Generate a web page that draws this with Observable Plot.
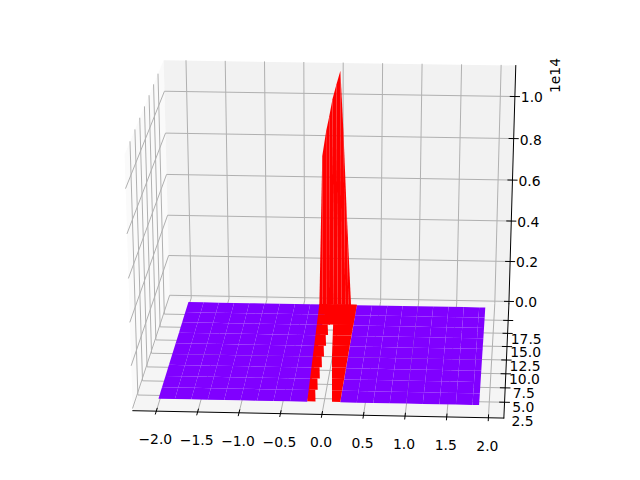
<!DOCTYPE html>
<html><head><meta charset="utf-8">
<script src="https://cdn.jsdelivr.net/npm/d3@7"></script>
<script src="https://cdn.jsdelivr.net/npm/@observablehq/plot@0.6"></script>
<style>html,body{margin:0;padding:0;background:#fff}svg{display:block}</style>
</head><body><div id="chart"></div>
<script>
// axis ticks and labels
const xTicks=[-2,-1.5,-1,-0.5,0,0.5,1,1.5,2];
const yTicks=[2.5,5,7.5,10,12.5,15,17.5];
const zTicks=[0,0.2,0.4,0.6,0.8,1.0];
const xLabels=["−2.0","−1.5","−1.0","−0.5","0.0","0.5","1.0","1.5","2.0"];
const yLabels=["2.5","5.0","7.5","10.0","12.5","15.0","17.5"];
const zLabels=["0.0","0.2","0.4","0.6","0.8","1.0"];
const offsetLabel="1e14";
// axis box limits (z in units of 1e14)
const xLim=[-2.285,2.185], yLim=[-0.19,20.8], zLim=[-0.012,1.146];
// surface grid
const xGrid=[-2.01,-1.81,-1.61,-1.41,-1.21,-1.01,-0.81,-0.61,-0.41,-0.2,0.2,0.4,0.6,0.8,1,1.2,1.4,1.6,1.8,1.88];
const yGrid=[1.5,3.5,5.5,7.5,9.5,11.5,13.5,15.5,17.5,19.5];
// left red stripe: outer edge x per row
const stripeLeftX=[-0.2,-0.21,-0.22,-0.23,-0.24,-0.25,-0.26,-0.27,-0.28,-0.29];
// fin at the far row: upper outline [x, z]
const finTopX=[-0.29,-0.25,-0.2,-0.16,-0.12,-0.07,-0.02,0.02,0.06,0.125];
const finTopZ=[0,0.73,0.85,0.92,1.0,1.07,1.135,0.85,0.5,0];
const finBaseX=[-0.29,-0.25,-0.2,-0.15,-0.1,-0.05,0,0.05,0.09,0.125];
const lowZ=0.002;

// view (mplot3d style)
const elev=23*Math.PI/180, delta=3.4*Math.PI/180, D=10;
const sx=3620, sy=2680, cx=328.3, cy=233.5;
const ce=Math.cos(elev), se=Math.sin(elev), cd=Math.cos(delta), sd=Math.sin(delta);
function project(x,y,z){
  const a=(x-xLim[0])/(xLim[1]-xLim[0])-.5, b=(y-yLim[0])/(yLim[1]-yLim[0])-.5, c=(z-zLim[0])/(zLim[1]-zLim[0])-.5;
  const n=[ce*sd,-ce*cd,se], u=[cd,sd,0];
  const v=[n[1]*u[2]-n[2]*u[1], n[2]*u[0]-n[0]*u[2], n[0]*u[1]-n[1]*u[0]];
  const w=D-(n[0]*a+n[1]*b+n[2]*c);
  return [cx+sx*(u[0]*a+u[1]*b)/w, cy-sy*(v[0]*a+v[1]*b+v[2]*c)/w];
}
let nid=0;
function poly(pts,extra={}){const id=nid++;return pts.map(p=>{const q=project(...p);return {px:q[0],py:q[1],id,...extra};});}
const [x0,x1]=xLim,[y0,y1]=yLim,[z0,z1]=zLim;

const paneX=poly([[x0,y0,z0],[x0,y1,z0],[x0,y1,z1],[x0,y0,z1]]);
const paneY=poly([[x0,y1,z0],[x1,y1,z0],[x1,y1,z1],[x0,y1,z1]]);
const paneZ=poly([[x0,y0,z0],[x1,y0,z0],[x1,y1,z0],[x0,y1,z0]]);

const grid=[];
for(const t of xTicks) grid.push(...poly([[t,y0,z0],[t,y1,z0],[t,y1,z1]]));
for(const t of yTicks) grid.push(...poly([[x1,t,z0],[x0,t,z0],[x0,t,z1]]));
for(const t of zTicks) grid.push(...poly([[x0,y0,t],[x0,y1,t],[x1,y1,t]]));

const axes=[...poly([[x0,y0,z0],[x1,y0,z0]]),...poly([[x1,y0,z0],[x1,y1,z0]]),...poly([[x1,y1,z0],[x1,y1,z1]])];
const ticks=[];
const dyT=0.5,dxT=0.06,dxZ=0.06;
for(const t of xTicks) ticks.push(...poly([[t,y0+dyT,z0],[t,y0-dyT,z0]]));
for(const t of yTicks) ticks.push(...poly([[x1-dxT,t,z0],[x1+dxT,t,z0]]));
for(const t of zTicks) ticks.push(...poly([[x1-dxZ,y1,t],[x1+dxZ,y1,t]]));

const labels=[];
xTicks.forEach((t,i)=>{const q=project(t,y0,z0);labels.push({px:q[0]-1,py:q[1]+28.5,s:xLabels[i]});});
yTicks.forEach((t,i)=>{const q=project(x1,t,z0);labels.push({px:q[0]+18,py:q[1]+19.5,s:yLabels[i]});});
zTicks.forEach((t,i)=>{const q=project(x1,y1,t);labels.push({px:q[0]+17,py:q[1]+1.5,s:zLabels[i]});});

// surface polygons
const surf=[];
for(let i=0;i<xGrid.length-1;i++){
  if(xGrid[i]===-0.2) continue;
  for(let j=0;j<yGrid.length-1;j++){
    surf.push(...poly([[xGrid[i],yGrid[j],0],[xGrid[i+1],yGrid[j],0],[xGrid[i+1],yGrid[j+1],0],[xGrid[i],yGrid[j+1],0]],{zv:0}));
  }
}
// left stripe, stair stepped on its inner edge
for(let j=0;j<yGrid.length-1;j++){
  surf.push(...poly([[stripeLeftX[j],yGrid[j],lowZ],[-0.1,yGrid[j],lowZ],[-0.13,yGrid[j+1],lowZ],[stripeLeftX[j+1],yGrid[j+1],lowZ]],{zv:lowZ}));
}
// right stripe, its inner edge drifts to the apex
const gapRight=[0.1,0.075,0.05,0.025,0,-0.02,-0.04,-0.06,-0.08,-0.1];
for(let j=0;j<yGrid.length-1;j++){
  surf.push(...poly([[gapRight[j],yGrid[j],lowZ],[0.2,yGrid[j],lowZ],[0.2,yGrid[j+1],lowZ],[gapRight[j+1],yGrid[j+1],lowZ]],{zv:lowZ}));
}
// closing the space behind the apex
surf.push(...poly([[-0.11,yGrid[7],lowZ],[0.2,yGrid[7],lowZ],[0.2,yGrid[9],lowZ],[-0.29,yGrid[9],lowZ]],{zv:lowZ}));
// fin at the far row, as abutting strips
for(let k=0;k<finTopX.length-1;k++){
  surf.push(...poly([[finBaseX[k],yGrid[9],0],[finTopX[k],yGrid[9],finTopZ[k]],[finTopX[k+1],yGrid[9],finTopZ[k+1]],[finBaseX[k+1],yGrid[9],0]],{zv:finTopZ[k]+finTopZ[k+1]}));
}

const plot=Plot.plot({
  width:640,height:480,margin:0,
  style:{background:"#fff"},
  x:{domain:[0,640],range:[0,640],axis:null},
  y:{domain:[0,480],range:[0,480],axis:null},
  color:{type:"threshold",domain:[0.0001],range:["#8000ff","#ff0000"]},
  marks:[
    Plot.line(paneX,{x:"px",y:"py",z:"id",fill:"#fafafa",stroke:"none"}),
    Plot.line(paneY,{x:"px",y:"py",z:"id",fill:"#f2f2f2",stroke:"none"}),
    Plot.line(paneZ,{x:"px",y:"py",z:"id",fill:"#f5f5f5",stroke:"none"}),
    Plot.line(grid,{x:"px",y:"py",z:"id",stroke:"#b0b0b0",strokeWidth:1}),
    Plot.line(axes,{x:"px",y:"py",z:"id",stroke:"#000",strokeWidth:1}),
    Plot.line(ticks,{x:"px",y:"py",z:"id",stroke:"#000",strokeWidth:1}),
    Plot.line(surf,{x:"px",y:"py",z:"id",fill:"zv",stroke:"none"}),
    Plot.text(labels,{x:"px",y:"py",text:"s",fontSize:13.9,fontFamily:"DejaVu Sans",fill:"#000",textAnchor:"middle"}),
    Plot.text([offsetLabel],{x:[555],y:[75],text:d=>d,rotate:-90,fontSize:13.9,fontFamily:"DejaVu Sans",fill:"#000"})
  ]
});
document.getElementById("chart").appendChild(plot);
</script></body></html>
